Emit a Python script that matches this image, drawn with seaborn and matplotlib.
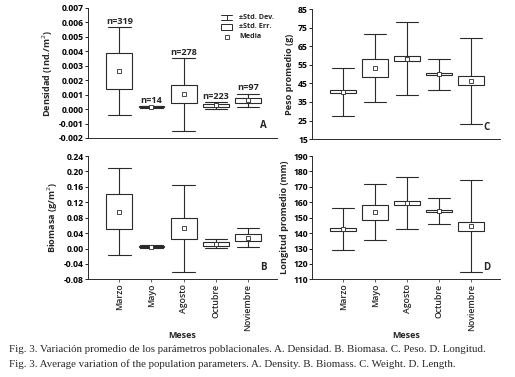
import numpy as np
import pandas as pd
import matplotlib
matplotlib.use('Agg')
import matplotlib.pyplot as plt
import seaborn as sns
from matplotlib.ticker import FormatStrFormatter

sns.set_style('white')
plt.rcParams['font.family'] = ['Open Sans', 'DejaVu Sans']

# Monthly means with standard error (box) and standard deviation (whiskers)
meses = ['Marzo', 'Mayo', 'Agosto', 'Octubre', 'Noviembre']
n_muestras = [319, 14, 278, 223, 97]

dens_mean = [0.00263, 0.00016, 0.00103, 0.00025, 0.00060]
dens_se = [0.00125, 0.00004, 0.00061, 0.00012, 0.00017]
dens_sd = [0.00306, 0.00007, 0.00252, 0.00025, 0.00047]

biom_mean = [0.096, 0.005, 0.053, 0.012, 0.028]
biom_se = [0.0465, 0.002, 0.027, 0.0056, 0.0087]
biom_sd = [0.114, 0.003, 0.113, 0.0116, 0.025]

peso_mean = [40.5, 53.2, 58.3, 49.9, 46.3]
peso_se = [0.9, 4.9, 1.4, 0.6, 2.4]
peso_sd = [13.0, 18.2, 19.8, 8.3, 22.9]

long_mean = [142.5, 153.6, 159.5, 154.3, 144.4]
long_se = [0.9, 4.9, 1.1, 0.7, 3.1]
long_sd = [13.5, 18.0, 16.7, 8.3, 29.9]

LC = '#2a2a2a'


def summary_frame(mean, se, sd):
    # five points per month: quartiles land on mean +- se, extremes on mean +- sd
    rows = []
    for m, mu, e, s in zip(meses, mean, se, sd):
        for v in (mu - s, mu - e, mu, mu + e, mu + s):
            rows.append({'mes': m, 'valor': v})
    return pd.DataFrame(rows)


def draw_panel(ax, mean, se, sd, ylim, step, fmt, ylabel, letter, show_x):
    df = summary_frame(mean, se, sd)
    sns.boxplot(data=df, x='mes', y='valor', order=meses, ax=ax,
                whis=(0, 100), width=0.8, color='white', linecolor=LC,
                linewidth=0.8, showfliers=False, capwidths=0.7,
                showmeans=True,
                medianprops={'visible': False},
                meanprops={'marker': 's', 'markerfacecolor': 'white',
                           'markeredgecolor': LC, 'markersize': 2.6,
                           'markeredgewidth': 0.6})
    ax.set_xlim(-0.97, 4.9)
    ax.set_ylim(*ylim)
    ax.set_yticks(np.arange(ylim[0], ylim[1] + step / 2, step))
    ax.yaxis.set_major_formatter(FormatStrFormatter(fmt))
    ax.tick_params(axis='y', labelsize=6.2, length=2, width=0.6, pad=1,
                   left=True, colors='black')
    for t in ax.get_yticklabels():
        t.set_fontweight('bold')
    ax.set_ylabel(ylabel, fontsize=6.6, fontweight='bold', labelpad=3)
    sns.despine(ax=ax)
    ax.spines['left'].set_linewidth(0.7)
    ax.spines['bottom'].set_linewidth(0.7)
    ax.spines['left'].set_color(LC)
    ax.spines['bottom'].set_color(LC)
    if show_x:
        ax.set_xticks(range(len(meses)))
        ax.set_xticklabels(meses, rotation=90, fontsize=6.3,
                           fontweight='semibold')
        ax.tick_params(axis='x', length=2, width=0.5, pad=1, bottom=True)
        ax.set_xlabel('Meses', fontsize=6.5, fontweight='bold')
        ax.xaxis.set_label_coords(0.5, -0.42)
    else:
        ax.set_xticks([])
        ax.set_xlabel('')
    ax.text(0.93, 0.05, letter, transform=ax.transAxes, fontsize=7,
            fontweight='bold', ha='center', va='bottom')


fig = plt.figure(figsize=(5.15, 3.77), dpi=100)
axA = fig.add_axes([0.171, 0.634, 0.367, 0.345])
axB = fig.add_axes([0.171, 0.259, 0.367, 0.327])
axC = fig.add_axes([0.606, 0.631, 0.365, 0.345])
axD = fig.add_axes([0.606, 0.259, 0.365, 0.327])

draw_panel(axA, dens_mean, dens_se, dens_sd, (-0.002, 0.007), 0.001, '%.3f',
           'Densidad (Ind./m$^2$)', 'A', False)
draw_panel(axB, biom_mean, biom_se, biom_sd, (-0.08, 0.24), 0.04, '%.2f',
           'Biomasa (g/m$^2$)', 'B', True)
draw_panel(axC, peso_mean, peso_se, peso_sd, (15, 85), 10, '%d',
           'Peso promedio (g)', 'C', False)
draw_panel(axD, long_mean, long_se, long_sd, (110, 190), 10, '%d',
           'Longitud promedio (mm)', 'D', True)

# sample sizes above the density whiskers
for i, (mu, s, n) in enumerate(zip(dens_mean, dens_sd, n_muestras)):
    axA.text(i, mu + s + 0.00008, f'n={n}', ha='center', va='bottom',
             fontsize=6.6, fontweight='bold')

# legend of panel A
tr = axA.transAxes
axA.plot([0.705, 0.76], [0.948, 0.948], color=LC, lw=0.7, transform=tr, clip_on=False)
axA.plot([0.705, 0.76], [0.905, 0.905], color=LC, lw=0.7, transform=tr, clip_on=False)
axA.plot([0.7325, 0.7325], [0.905, 0.948], color=LC, lw=0.7, transform=tr, clip_on=False)
axA.add_patch(plt.Rectangle((0.705, 0.83), 0.055, 0.048, transform=tr,
                            facecolor='white', edgecolor=LC, lw=0.7, clip_on=False))
axA.plot([0.7325], [0.777], marker='s', ms=2.4, mfc='white', mec=LC, mew=0.6,
         transform=tr, clip_on=False)
for yy, lab in zip([0.927, 0.854, 0.777], ['±Std. Dev.', '±Std. Err.', 'Media']):
    axA.text(0.80, yy, lab, transform=tr, fontsize=5.2, fontweight='bold',
             va='center', ha='left')

# caption
cap_font = ['Liberation Serif', 'DejaVu Serif']
fig.text(0.018, 0.072, 'Fig. 3. Variación promedio de los parámetros poblacionales. '
         'A. Densidad. B. Biomasa. C. Peso. D. Longitud.',
         fontsize=7.8, family=cap_font, va='center', ha='left')
fig.text(0.018, 0.033, 'Fig. 3. Average variation of the population parameters. '
         'A. Density. B. Biomass. C. Weight. D. Length.',
         fontsize=7.8, family=cap_font, va='center', ha='left')

fig.savefig('out.png', dpi=100)
